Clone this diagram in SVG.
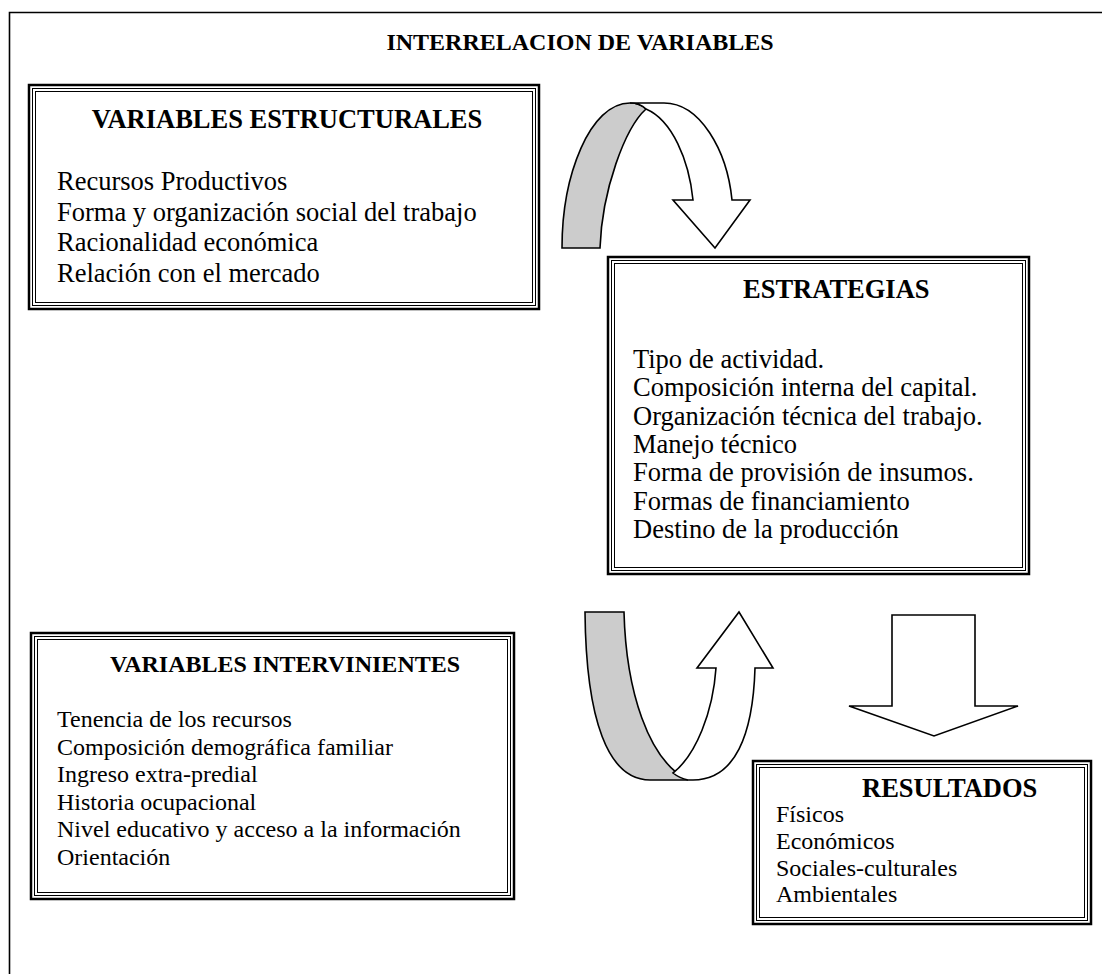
<svg xmlns="http://www.w3.org/2000/svg" width="1102" height="974" viewBox="0 0 1102 974">
<style>
text{font-family:"Liberation Serif","Times New Roman",serif;fill:#000}
.t{font-weight:bold;font-size:24px}
.h1{font-weight:bold;font-size:26.5px}
.b1{font-size:26.5px}
.h2{font-weight:bold;font-size:24px}
.b2{font-size:24px}
.o{fill:#fff;stroke:#000;stroke-width:2.5}
.m{fill:none;stroke:#000;stroke-width:1}
.frame{fill:none;stroke:#000;stroke-width:1.6}
.ar{fill:#fff;stroke:#000;stroke-width:1.6;stroke-linejoin:miter}
.gr{fill:#ccc;stroke:#000;stroke-width:1.6}
</style>
<rect width="1102" height="974" fill="#fff"/>
<path class="frame" d="M9.5,974 V12.5 H1102"/>
<text class="t" x="580" y="50" text-anchor="middle">INTERRELACION DE VARIABLES</text>

<g id="connectors">
  <path class="gr" d="M562,248 C562,175 590,103 630,103 C638,103 643,106 646,109 C625,128 602,190 600,248 Z"/>
  <path class="ar" d="M630,103 L664,103 C700,103 727,150 732,200 L750,200 L715,248 L673,200 L693,200 C689,160 672,120 646,109 C643,106 638,103 630,103 Z"/>
  <path class="gr" d="M585,612 L624,612 C626,690 648,760 688,780 L650,780 C608,780 586,720 585,612 Z"/>
  <path class="ar" d="M688,780 L693,780 C735,780 753,735 755,668 L773,668 L739,612 L697,668 L716,668 C713,712 696,755 673,773 C678,777 683,779 688,780 Z"/>
  <path class="ar" d="M892,615 L975,615 L975,706 L1018,706 L934,736 L849,706 L892,706 Z"/>
</g>

<g id="estructurales">
  <rect class="o" x="29" y="85" width="510" height="224"/>
  <rect class="m" x="32.5" y="88.5" width="503" height="217"/>
  <rect class="m" x="35.5" y="91.5" width="497" height="211"/>
  <text class="h1" x="287" y="128" text-anchor="middle">VARIABLES ESTRUCTURALES</text>
  <text class="b1" x="57" y="190">Recursos Productivos</text>
  <text class="b1" x="57" y="220.5">Forma y organización social del trabajo</text>
  <text class="b1" x="57" y="251">Racionalidad económica</text>
  <text class="b1" x="57" y="281.5">Relación con el mercado</text>
</g>

<g id="estrategias">
  <rect class="o" x="608" y="257" width="421" height="317"/>
  <rect class="m" x="611.5" y="260.5" width="414" height="310"/>
  <rect class="m" x="614.5" y="263.5" width="408" height="304"/>
  <text class="h1" x="743" y="298">ESTRATEGIAS</text>
  <text class="b1" x="633" y="368">Tipo de actividad.</text>
  <text class="b1" x="633" y="396.3">Composición interna del capital.</text>
  <text class="b1" x="633" y="424.6">Organización técnica del trabajo.</text>
  <text class="b1" x="633" y="452.9">Manejo técnico</text>
  <text class="b1" x="633" y="481.2">Forma de provisión de insumos.</text>
  <text class="b1" x="633" y="509.5">Formas de financiamiento</text>
  <text class="b1" x="633" y="537.8">Destino de la producción</text>
</g>

<g id="intervinientes">
  <rect class="o" x="31" y="633" width="483" height="266"/>
  <rect class="m" x="34.5" y="636.5" width="476" height="259"/>
  <rect class="m" x="37.5" y="639.5" width="470" height="253"/>
  <text class="h2" x="285" y="672" text-anchor="middle">VARIABLES INTERVINIENTES</text>
  <text class="b2" x="57" y="727">Tenencia de los recursos</text>
  <text class="b2" x="57" y="754.6">Composición demográfica familiar</text>
  <text class="b2" x="57" y="782.2">Ingreso extra-predial</text>
  <text class="b2" x="57" y="809.8">Historia ocupacional</text>
  <text class="b2" x="57" y="837.4">Nivel educativo y acceso a la información</text>
  <text class="b2" x="57" y="865">Orientación</text>
</g>

<g id="resultados">
  <rect class="o" x="753" y="761" width="338" height="163"/>
  <rect class="m" x="756.5" y="764.5" width="331" height="156"/>
  <rect class="m" x="759.5" y="767.5" width="325" height="150"/>
  <text class="h1" x="862" y="797">RESULTADOS</text>
  <text class="b2" x="776" y="822">Físicos</text>
  <text class="b2" x="776" y="849">Económicos</text>
  <text class="b2" x="776" y="875.5">Sociales-culturales</text>
  <text class="b2" x="776" y="902">Ambientales</text>
</g>
</svg>
